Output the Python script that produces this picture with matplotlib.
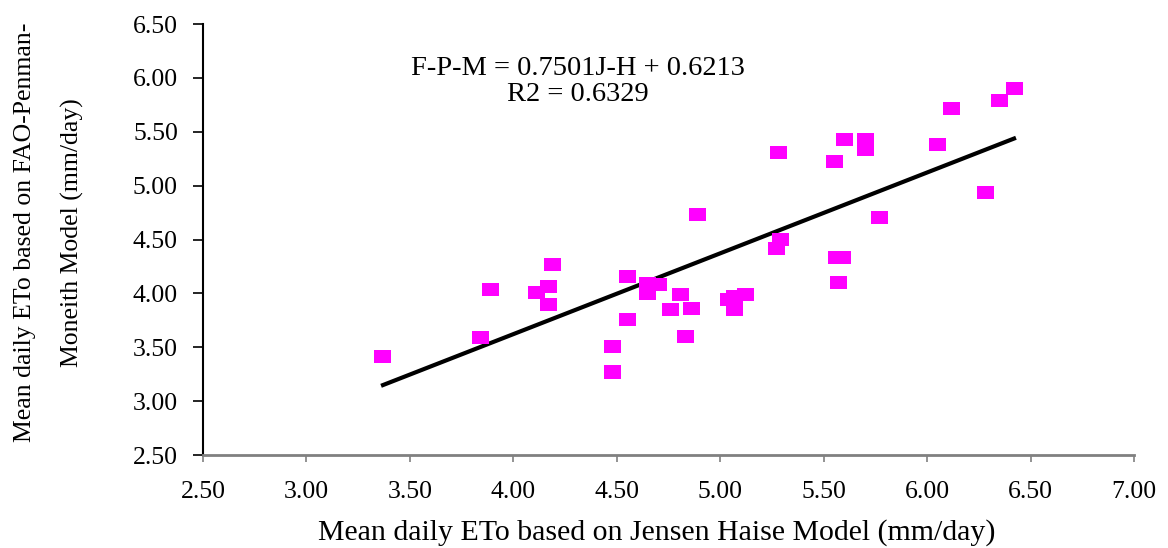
import matplotlib.pyplot as plt
import numpy as np

plt.rcParams['font.family'] = ['Liberation Serif', 'DejaVu Serif']

# Mean daily ETo (mm/day): Jensen-Haise (x) vs FAO-Penman-Monteith (y)
jh = [3.37, 3.84, 3.89, 4.11, 4.17, 4.17, 4.19, 4.48, 4.48, 4.55,
      4.55, 4.65, 4.65, 4.70, 4.76, 4.81, 4.83, 4.86, 4.89, 5.04,
      5.07, 5.07, 5.12, 5.27, 5.29, 5.28, 5.55, 5.60, 5.57, 5.56,
      5.59, 5.70, 5.70, 5.77, 6.05, 6.12, 6.28, 6.35, 6.42]
fpm = [3.41, 3.59, 4.04, 4.01, 4.06, 3.90, 4.27, 3.51, 3.27, 4.16,
       3.76, 4.09, 4.00, 4.08, 3.85, 3.99, 3.60, 3.86, 4.73, 3.94,
       3.97, 3.85, 3.99, 4.42, 4.50, 5.31, 5.22, 5.43, 4.10, 4.33,
       4.33, 5.43, 5.34, 4.70, 5.38, 5.72, 4.94, 5.79, 5.90]

slope = 0.7501
intercept = 0.6213
r2 = 0.6329

xticks = np.arange(2.5, 7.01, 0.5)
yticks = np.arange(2.5, 6.51, 0.5)

fig = plt.figure(figsize=(11.68, 5.48), dpi=100)
ax = fig.add_axes([0.1738, 0.1697, 0.7971, 0.7865])

# slightly wide square marker
rect = [(-1.3, -1), (1.3, -1), (1.3, 1), (-1.3, 1), (-1.3, -1)]
ax.scatter(jh, fpm, marker=rect, s=150, color='#ff00ff', edgecolors='none', zorder=3)

xl = np.array([min(jh), max(jh)])
ax.plot(xl, slope * xl + intercept, color='black', linewidth=3, zorder=2)

ax.text(4.31, 6.03, f'F-P-M = {slope:.4f}J-H + {intercept:.4f}', ha='center',
        va='baseline', fontsize=20.5)
ax.text(4.31, 5.785, f'R2 = {r2:.4f}', ha='center', va='baseline', fontsize=20.5)

ax.set_xlim(2.5, 7.0)
ax.set_ylim(2.5, 6.5)
ax.set_xticks(xticks)
ax.set_yticks(yticks)
ax.set_xticklabels([f'{v:.2f}' for v in xticks])
ax.set_yticklabels([f'{v:.2f}' for v in yticks])
ax.tick_params(axis='both', direction='out', labelsize=18.5)
ax.tick_params(axis='x', color='#808080', width=1.2, length=5, pad=13.5)
ax.tick_params(axis='y', color='black', width=1.2, length=7, pad=11)

for side in ['top', 'right']:
    ax.spines[side].set_visible(False)
ax.spines['left'].set_color('black')
ax.spines['left'].set_linewidth(1.5)
ax.spines['bottom'].set_color('#808080')
ax.spines['bottom'].set_linewidth(2)

ax.set_xlabel('Mean daily ETo based on Jensen Haise Model (mm/day)', fontsize=21.5)
ax.xaxis.label.set_va('baseline')
ax.xaxis.set_label_coords(0.487, -0.197)
ax.set_ylabel('Mean daily ETo based on FAO-Penman-\nMoneith Model (mm/day)', fontsize=18.5,
              linespacing=2.4)
ax.yaxis.set_label_coords(-0.128, 0.517)

plt.savefig('out.png', dpi=100)
plt.close()
